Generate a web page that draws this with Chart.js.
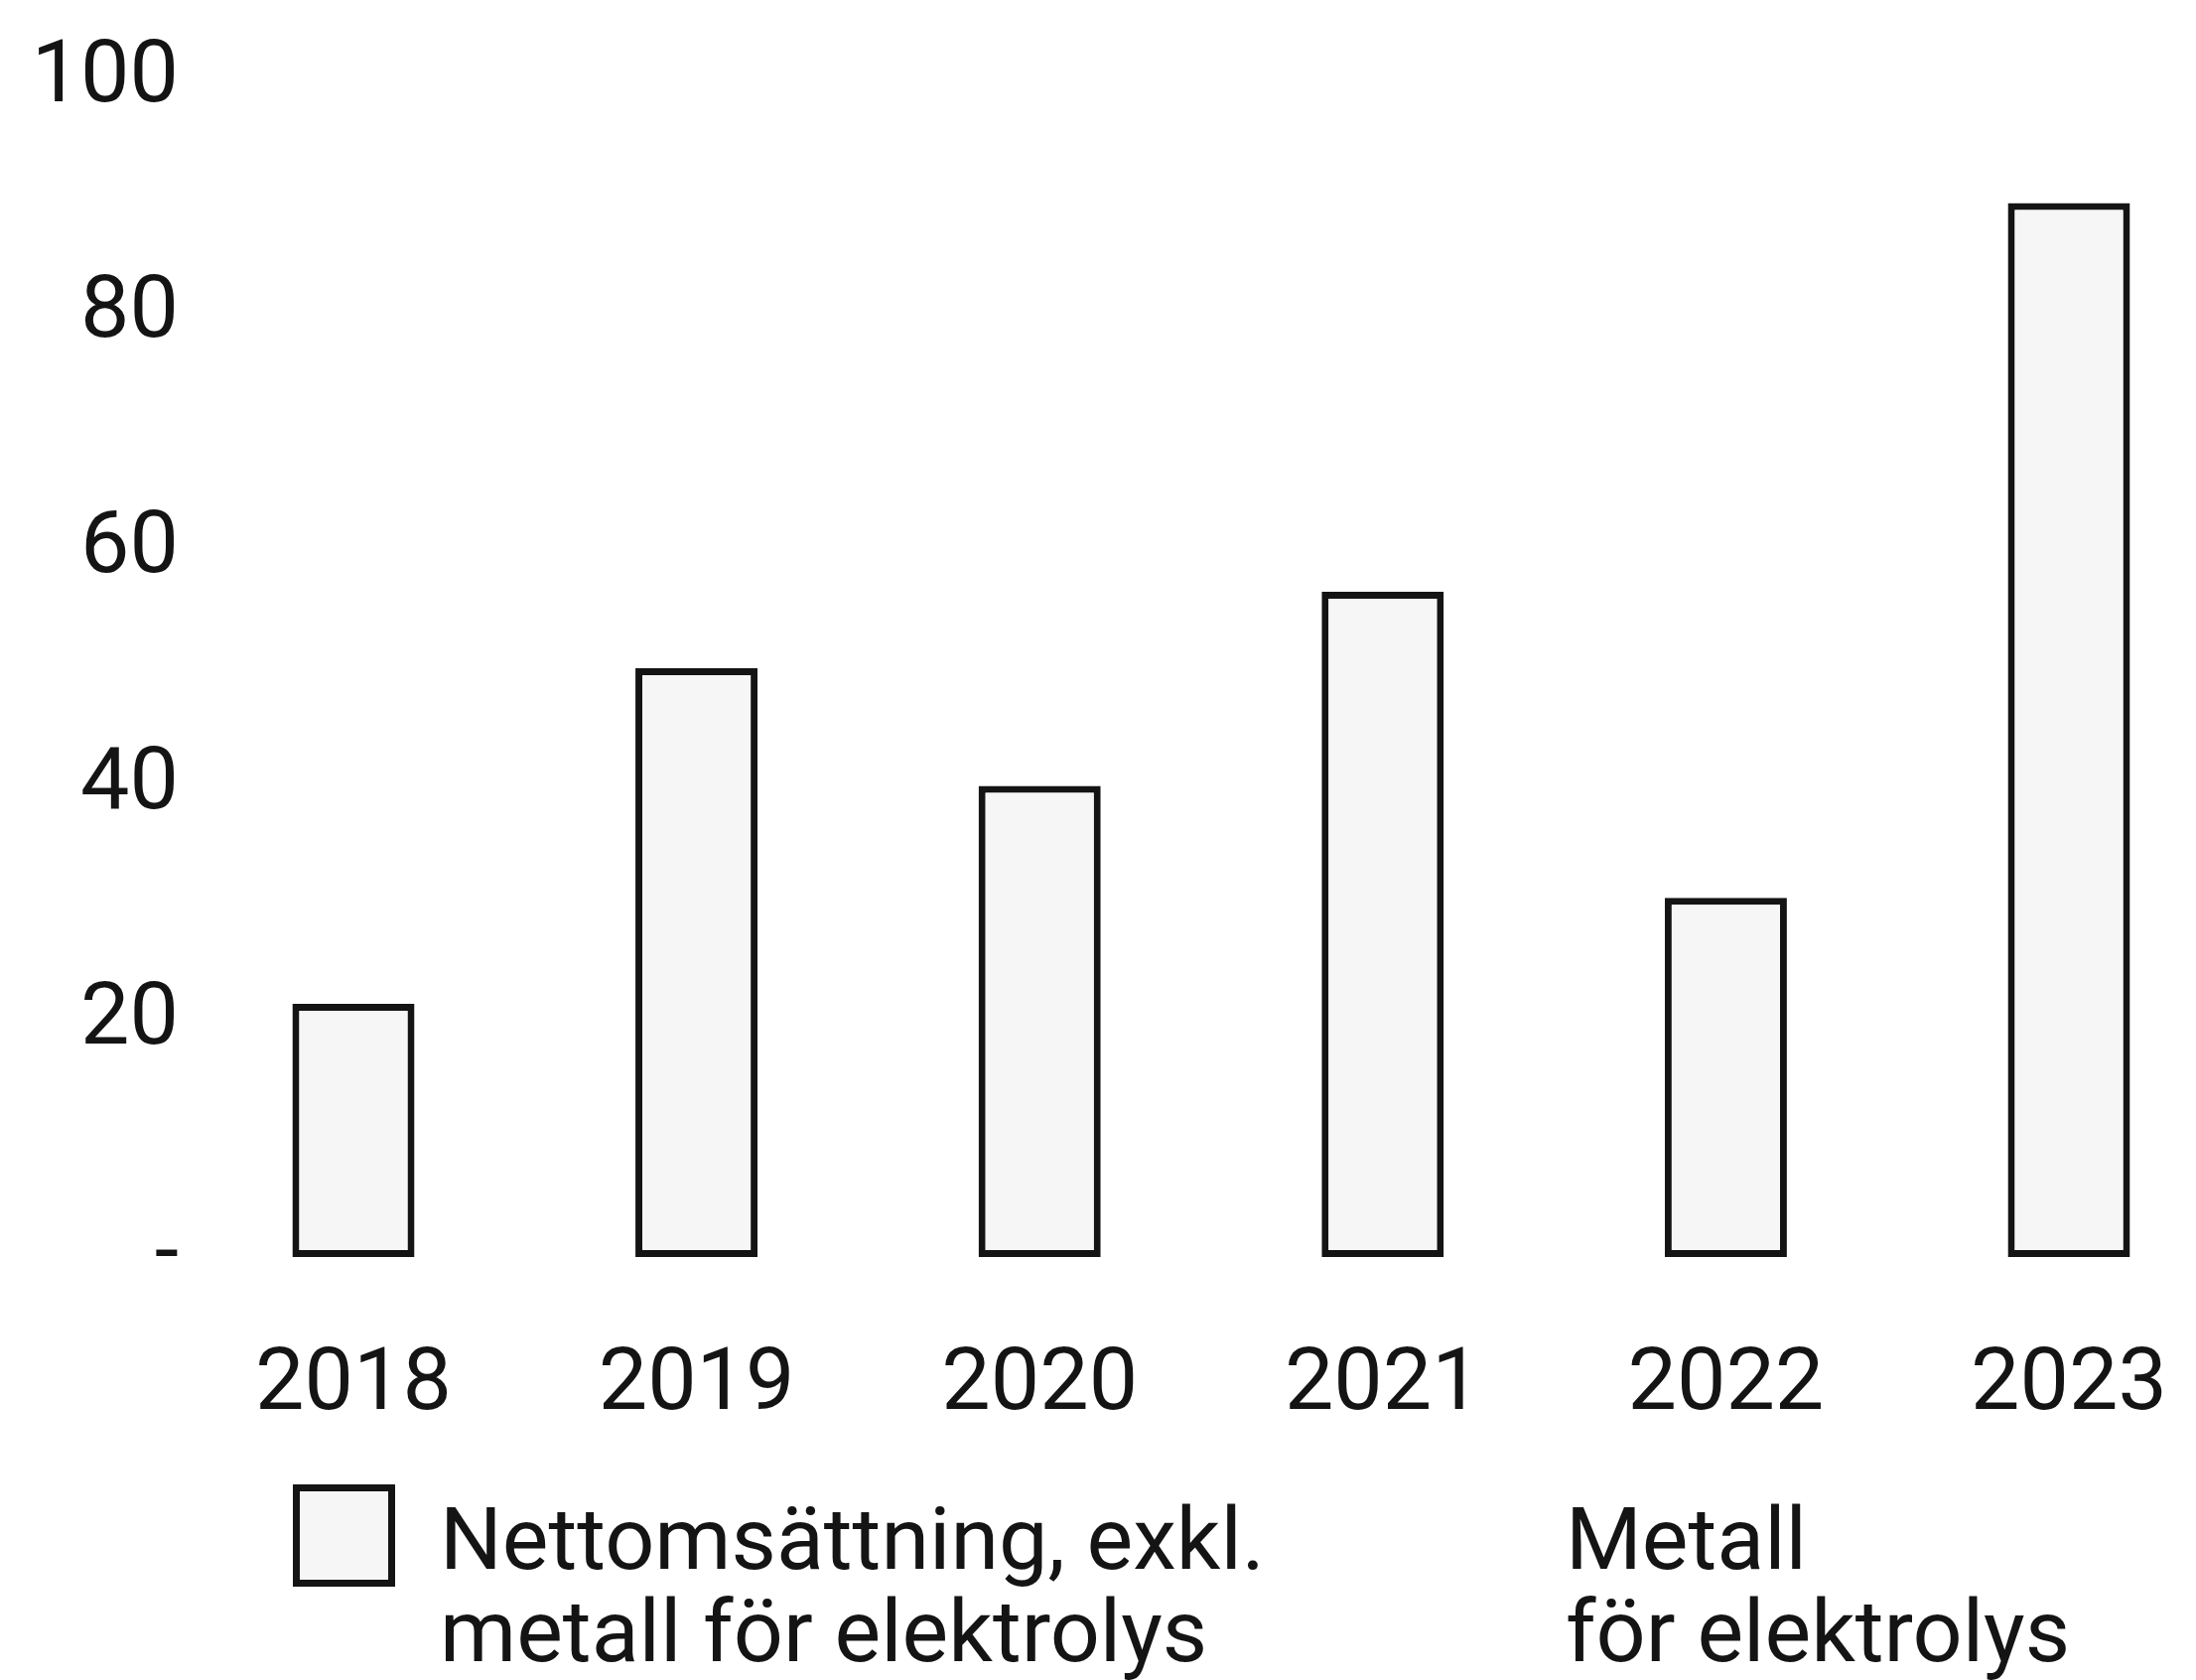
<!DOCTYPE html>
<html lang="sv">
<head>
<meta charset="utf-8">
<title>Nettomsättning 2018–2023</title>
<script src="https://cdn.jsdelivr.net/npm/chart.js@4.4.1/dist/chart.umd.min.js"></script>
<style>
  html, body { margin: 0; padding: 0; background: #ffffff; }
  #wrap { position: relative; width: 2212px; height: 1692px; }
</style>
</head>
<body>
<div id="wrap"><canvas id="salesChart"></canvas></div>
<script>
// Data
const years = ['2018', '2019', '2020', '2021', '2022', '2023'];
const netSales = [21.5, 50, 40, 56.5, 30.5, 89.5];   // nettomsättning exkl. metall
const metalSales = [];                              // metall för elektrolys (no visible bars)
const yTicks = [0, 20, 40, 60, 80, 100];
const seriesLabels = ['Nettomsättning, exkl.\nmetall för elektrolys', 'Metall\nför elektrolys'];

const FONT = "Roboto, 'Liberation Sans', sans-serif";
const INK = '#141414';

// legend drawn by hand: two-line labels, the second item has no swatch
const legendPlugin = {
    id: 'twoLineLegend',
    afterDraw(chart) {
        const ctx = chart.ctx;
        const sets = chart.data.datasets;
        const items = [
            { x: 295, swatch: true },
            { x: 1577, swatch: false }
        ];
        ctx.save();
        ctx.font = '400 88px ' + FONT;
        ctx.textBaseline = 'alphabetic';
        sets.forEach((ds, i) => {
            const it = items[i];
            let textX = it.x;
            if (it.swatch) {
                ctx.fillStyle = ds.backgroundColor;
                ctx.fillRect(it.x, 1495, 103, 103);
                ctx.lineWidth = 7;
                ctx.strokeStyle = ds.borderColor;
                ctx.strokeRect(it.x + 3.5, 1498.5, 96, 96);
                textX = it.x + 148;
            }
            ctx.fillStyle = INK;
            ds.label.split('\n').forEach((line, k) => {
                ctx.fillText(line, textX, 1580 + k * 93);
            });
        });
        ctx.restore();
    }
};

// tick padding is counted twice by Chart.js and also eats into the plot,
// so fix the axis boxes by hand
const clearPadding = (scale) => {
    scale.paddingTop = 0;
    scale.paddingBottom = 0;
    scale.paddingLeft = 0;
    scale.paddingRight = 0;
};

new Chart(document.getElementById('salesChart'), {
    type: 'bar',
    data: {
        labels: years,
        datasets: [
            {
                label: seriesLabels[0],
                data: netSales,
                backgroundColor: '#f6f6f6',
                borderColor: INK,
                borderWidth: 7,
                borderSkipped: false,
                stack: 'sales',
                clip: false,
                categoryPercentage: 0.8,
                barPercentage: 0.445
            },
            {
                label: seriesLabels[1],
                data: metalSales,
                backgroundColor: '#ffffff',
                borderColor: '#ffffff',
                borderWidth: 0,
                stack: 'sales',
                clip: false
            }
        ]
    },
    options: {
        responsive: true,
        maintainAspectRatio: false,
        devicePixelRatio: 1,
        animation: false,
        layout: {
            padding: { top: 80, bottom: 242, left: 30, right: 128 }
        },
        plugins: {
            legend: { display: false },
            tooltip: { enabled: false }
        },
        scales: {
            x: {
                offset: false,
                grid: { display: false, drawTicks: false },
                border: { display: false },
                afterFit: (scale) => { clearPadding(scale); scale.height = 184; },
                ticks: {
                    color: INK,
                    font: { family: FONT, size: 88, weight: 400 },
                    padding: 78,
                    maxRotation: 0
                }
            },
            y: {
                min: yTicks[0],
                max: yTicks[yTicks.length - 1],
                afterBuildTicks: (scale) => { scale.ticks = yTicks.map(v => ({ value: v })); },
                afterFit: (scale) => { clearPadding(scale); scale.width = 326; },
                grid: { display: false, drawTicks: false },
                border: { display: false },
                ticks: {
                    color: INK,
                    font: { family: FONT, size: 88, weight: 400 },
                    padding: 176,
                    callback: (v) => (v === 0 ? '-' : v)
                }
            }
        }
    },
    plugins: [legendPlugin]
});
</script>
</body>
</html>
